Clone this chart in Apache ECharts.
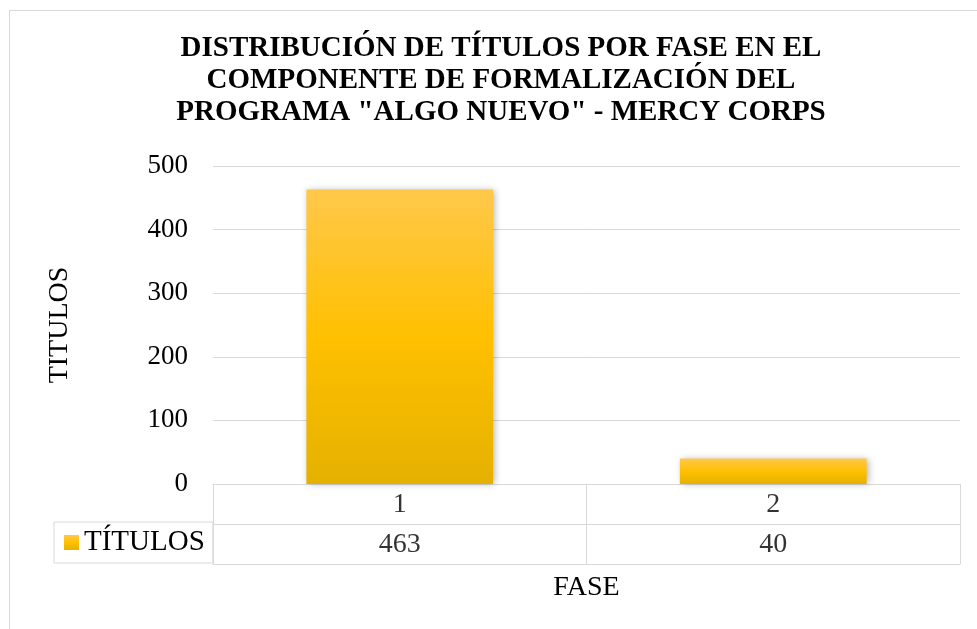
<!DOCTYPE html>
<html>
<head>
<meta charset="utf-8">
<script src="https://cdn.jsdelivr.net/npm/echarts@6/dist/echarts.min.js"></script>
<style>
  html, body { margin: 0; padding: 0; background: #fff; overflow: hidden; }
  #frame { position: absolute; left: 9px; top: 10px; width: 1100px; height: 800px; border: 1px solid #d9d9d9; }
  #chart { position: absolute; left: 0; top: 0; width: 977px; height: 629px; }
</style>
</head>
<body>
<div id="frame"></div>
<div id="chart"></div>
<script>
// data
const titleLines = ['DISTRIBUCIÓN DE TÍTULOS POR FASE EN EL', 'COMPONENTE DE FORMALIZACIÓN DEL', 'PROGRAMA "ALGO NUEVO" - MERCY CORPS'];
const categories = ['1', '2'];
const seriesName = 'TÍTULOS';
const values = [463, 40];
const yTicks = { min: 0, max: 500, interval: 100 };

const FONT = "'Liberation Serif', 'Times New Roman', serif";
const GRID_LINE = '#d9d9d9';

const barColor = new echarts.graphic.LinearGradient(0, 0, 0, 1, [
  { offset: 0, color: '#ffc84b' },
  { offset: 0.5, color: '#ffc000' },
  { offset: 1, color: '#e5b100' }
]);

const chart = echarts.init(document.getElementById('chart'), null, { renderer: 'canvas' });

// table rows: first row shows the category, second the value
const tableRowCats = ['fase', seriesName];
const tableData = [];
categories.forEach((c, i) => {
  tableData.push({ value: [i, 'fase'], text: c });
  tableData.push({ value: [i, seriesName], text: String(values[i]) });
});

const option = {
  backgroundColor: 'transparent',
  animation: false,
  textStyle: { fontFamily: FONT, color: '#000' },
  title: {
    text: titleLines.join('\n'),
    left: 496,
    textAlign: 'center',
    top: 28,
    textStyle: { fontFamily: FONT, fontSize: 29, fontWeight: 'bold', lineHeight: 32, color: '#000' }
  },
  legend: {
    data: [seriesName],
    left: 54,
    top: 522,
    orient: 'horizontal',
    padding: [6, 8, 6, 10],
    borderColor: GRID_LINE,
    borderWidth: 1,
    itemWidth: 15,
    itemHeight: 15,
    itemGap: 0,
    icon: 'rect',
    itemStyle: { shadowBlur: 0, shadowOffsetX: 0 },
    textStyle: { fontFamily: FONT, fontSize: 29, color: '#000' }
  },
  grid: [
    { left: 213, right: 17, top: 166, bottom: 145 },
    { left: 213, right: 17, top: 484, height: 80 }
  ],
  xAxis: [
    {
      type: 'category', gridIndex: 0, data: categories,
      axisLine: { lineStyle: { color: GRID_LINE, width: 1 } },
      axisTick: { show: false }, axisLabel: { show: false }
    },
    {
      type: 'category', gridIndex: 1, data: categories,
      axisLine: { lineStyle: { color: GRID_LINE, width: 1 } },
      axisTick: { show: false }, axisLabel: { show: false },
      splitLine: { show: true, lineStyle: { color: GRID_LINE, width: 1 } },
      name: 'FASE', nameLocation: 'middle', nameGap: 10,
      nameTextStyle: { fontFamily: FONT, fontSize: 28, color: '#000' }
    }
  ],
  yAxis: [
    {
      type: 'value', gridIndex: 0,
      min: yTicks.min, max: yTicks.max, interval: yTicks.interval,
      axisLine: { show: false }, axisTick: { show: false },
      axisLabel: { fontFamily: FONT, fontSize: 27, color: '#000', margin: 25 },
      splitLine: { lineStyle: { color: GRID_LINE, width: 1 } },
      name: 'TITULOS', nameLocation: 'middle', nameRotate: 90, nameGap: 139,
      nameTextStyle: { fontFamily: FONT, fontSize: 28, color: '#000' }
    },
    {
      type: 'category', gridIndex: 1, data: tableRowCats, inverse: true,
      axisLine: { show: false }, axisTick: { show: false }, axisLabel: { show: false },
      splitLine: { show: true, lineStyle: { color: GRID_LINE, width: 1 } }
    }
  ],
  series: [
    {
      name: seriesName,
      type: 'bar',
      xAxisIndex: 0, yAxisIndex: 0,
      data: values,
      barWidth: '50%',
      itemStyle: {
        color: barColor,
        shadowColor: 'rgba(0,0,0,0.3)',
        shadowBlur: 7,
        shadowOffsetX: 2,
        shadowOffsetY: 0
      }
    },
    {
      type: 'scatter',
      xAxisIndex: 1, yAxisIndex: 1,
      data: tableData,
      symbolSize: 0,
      silent: true,
      label: {
        show: true, position: 'inside',
        formatter: (p) => p.data.text,
        fontFamily: FONT, fontSize: 28, color: '#000',
        offset: [0, 1]
      }
    }
  ]
};
chart.setOption(option);
</script>
</body>
</html>
